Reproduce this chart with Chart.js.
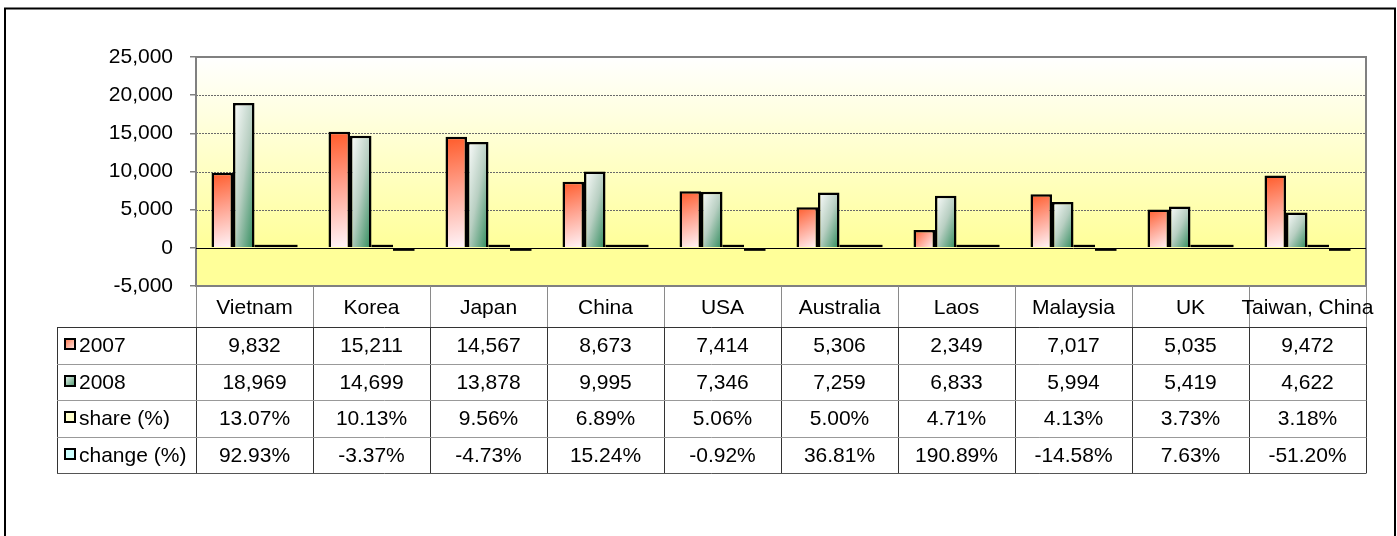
<!DOCTYPE html>
<html><head><meta charset="utf-8">
<script src="https://cdn.jsdelivr.net/npm/chart.js@4/dist/chart.umd.min.js"></script>
<style>html,body{margin:0;padding:0;background:#fff;}#wrap{width:1397px;height:536px;position:relative;overflow:hidden;}</style>
</head><body><div id="wrap"><canvas id="c" width="1397" height="536"></canvas></div>
<script>
const categories = ['Vietnam','Korea','Japan','China','USA','Australia','Laos','Malaysia','UK','Taiwan, China'];
const values2007 = [9832,15211,14567,8673,7414,5306,2349,7017,5035,9472];
const values2008 = [18969,14699,13878,9995,7346,7259,6833,5994,5419,4622];
const sharePct = [13.07,10.13,9.56,6.89,5.06,5.00,4.71,4.13,3.73,3.18];
const changePct = [92.93,-3.37,-4.73,15.24,-0.92,36.81,190.89,-14.58,7.63,-51.20];
const seriesNames = ['2007','2008','share (%)','change (%)'];
const yMin = -5000, yMax = 25000, yStep = 5000;

const FONT = "'Liberation Sans', Arial, sans-serif";
const FONT_SIZE = 21;
const CAT_PCT = 0.735;

function fmtInt(v){ return v.toLocaleString('en-US'); }
function fmtPct(v){ return v.toFixed(2) + '%'; }

function barGrad(ctx, stops, dsIndex, mode){
  const chart = ctx.chart; const xs = chart.scales.x, ys = chart.scales.y;
  if (!xs || !ys || ctx.type !== 'data') return stops[0][1];
  const xc = xs.getPixelForValue(ctx.dataIndex);
  const colW = xs.getPixelForValue(1) - xs.getPixelForValue(0);
  const v = ctx.raw;
  const top = ys.getPixelForValue(Math.max(v,0)), bot = ys.getPixelForValue(Math.min(v,0));
  if (!isFinite(xc) || !isFinite(colW) || !isFinite(top) || !isFinite(bot)) return stops[0][1];
  const bw = colW*CAT_PCT/4;
  const left = xc - 2*bw + dsIndex*bw;
  const w = Math.max(bw,1), h = Math.max(bot-top,1);
  let g;
  if (mode === 'diag') {
    const k = 2/(1/(w*w)+1/(h*h));
    g = chart.ctx.createLinearGradient(left, top, left + k/w, top + k/h);
  } else {
    g = chart.ctx.createLinearGradient(left, top, left + w, bot);
  }
  stops.forEach(s => g.addColorStop(s[0], s[1]));
  return g;
}

const stops2007 = [[0,'#FF5A28'],[0.45,'#FFA08C'],[1,'#FFF6FB']];
const stops2008 = [[0,'#FFFFFF'],[0.5,'#B8CFC2'],[1,'#2C8A5A']];

const tablePlugin = {
  id: 'tablePlugin',
  beforeDatasetsDraw(chart){
    const {ctx, chartArea:a, scales:{y}} = chart;
    ctx.save();
    const y0 = y.getPixelForValue(0);
    const g = ctx.createLinearGradient(0, a.top, 0, y0);
    g.addColorStop(0,'#FFFFFF'); g.addColorStop(1,'#FFFF99');
    ctx.fillStyle = g; ctx.fillRect(a.left, a.top, a.width, y0 - a.top);
    ctx.fillStyle = '#FFFF99'; ctx.fillRect(a.left, y0, a.width, a.bottom - y0);
    ctx.strokeStyle = '#6a6a6a'; ctx.lineWidth = 1; ctx.setLineDash([2,1]);
    y.ticks.forEach(t => {
      if (t.value === 0 || t.value === yMin || t.value === yMax) return;
      const py = Math.round(y.getPixelForValue(t.value)) + 0.5;
      ctx.beginPath(); ctx.moveTo(a.left, py); ctx.lineTo(a.right, py); ctx.stroke();
    });
    ctx.setLineDash([]);
    ctx.strokeStyle = '#808080'; ctx.lineWidth = 2;
    ctx.strokeRect(a.left, a.top, a.width, a.height);
    ctx.strokeStyle = '#000'; ctx.lineWidth = 1;
    const pz = Math.round(y0) + 0.5;
    ctx.beginPath(); ctx.moveTo(a.left, pz); ctx.lineTo(a.right, pz); ctx.stroke();
    ctx.restore();
  },
  afterDraw(chart){
    const {ctx, chartArea:a, scales:{x}} = chart;
    ctx.save();
    const colW = x.getPixelForValue(1) - x.getPixelForValue(0);
    const tableLeft = 57, rowTop = 327, rowH = 36.5, nRows = 4;
    const tableBottom = rowTop + rowH*nRows;
    ctx.lineWidth = 1;
    ctx.strokeStyle = '#8a8a8a';
    for (let i = 0; i <= categories.length; i++) {
      const px = Math.round(a.left + i*colW) + 0.5;
      ctx.beginPath(); ctx.moveTo(px, a.bottom); ctx.lineTo(px, rowTop); ctx.stroke();
    }
    ctx.strokeStyle = '#333';
    const vx = [tableLeft];
    for (let i = 0; i <= categories.length; i++) vx.push(a.left + i*colW);
    vx.forEach(v => { const px = Math.round(v) + 0.5; ctx.beginPath(); ctx.moveTo(px, rowTop); ctx.lineTo(px, tableBottom); ctx.stroke(); });
    for (let r = 0; r <= nRows; r++) {
      const py = Math.round(rowTop + r*rowH) + 0.5;
      ctx.strokeStyle = (r === 0) ? '#333' : (r === nRows ? '#555' : '#999');
      ctx.beginPath(); ctx.moveTo(tableLeft, py); ctx.lineTo(Math.round(a.right)+0.5, py); ctx.stroke();
    }
    ctx.fillStyle = '#000'; ctx.font = FONT_SIZE + 'px ' + FONT;
    ctx.textAlign = 'center'; ctx.textBaseline = 'middle';
    categories.forEach((c,i) => ctx.fillText(c, x.getPixelForValue(i), (a.bottom + rowTop)/2 + 2));
    const rows = [values2007.map(fmtInt), values2008.map(fmtInt), sharePct.map(fmtPct), changePct.map(fmtPct)];
    rows.forEach((row, r) => {
      const cy = rowTop + r*rowH + rowH/2 + 1;
      row.forEach((t,i) => ctx.fillText(t, x.getPixelForValue(i), cy));
    });
    const keyFills = [
      (() => { const g = ctx.createLinearGradient(64,337,76,349); g.addColorStop(0,'#FF6A3A'); g.addColorStop(1,'#FFF4F8'); return g; })(),
      (() => { const g = ctx.createLinearGradient(64,337,76,349); g.addColorStop(0,'#FFFFFF'); g.addColorStop(1,'#3C8E62'); return g; })(),
      '#FFFFCC', '#CCFFFF'
    ];
    ctx.textAlign = 'left';
    seriesNames.forEach((n, r) => {
      const cy = rowTop + r*rowH + rowH/2;
      const ky = Math.round(cy - 7);
      ctx.fillStyle = '#000'; ctx.fillRect(64, ky, 12, 12);
      ctx.fillStyle = keyFills[r];
      ctx.save(); ctx.translate(0, ky - 337);
      ctx.fillRect(66, 339, 8, 8);
      ctx.restore();
      ctx.fillStyle = '#000';
      ctx.fillText(n, 79, cy + 1);
    });
    ctx.strokeStyle = '#000'; ctx.lineWidth = 2;
    ctx.strokeRect(5, 8.5, 1390, 600);
    ctx.restore();
  }
};

Chart.defaults.font.family = FONT;
Chart.defaults.color = '#000';

new Chart(document.getElementById('c'), {
  type: 'bar',
  data: {
    labels: categories,
    datasets: [
      { label: seriesNames[0], data: values2007,
        backgroundColor: c => barGrad(c, stops2007, 0, 'lin'),
        borderColor: '#000', borderWidth: 2.5 },
      { label: seriesNames[1], data: values2008,
        backgroundColor: c => barGrad(c, stops2008, 1, 'diag'),
        borderColor: '#000', borderWidth: 2.5 },
      { label: seriesNames[2], data: sharePct.map(v => v/100),
        backgroundColor: '#000', borderWidth: 0, minBarLength: 3 },
      { label: seriesNames[3], data: changePct.map(v => v/100),
        backgroundColor: '#000', borderWidth: 0, minBarLength: 3 }
    ]
  },
  options: {
    responsive: false,
    devicePixelRatio: 1,
    animation: false,
    datasets: { bar: { categoryPercentage: CAT_PCT, barPercentage: 1 } },
    layout: { padding: { left: 0, top: 57, right: 31, bottom: 250 } },
    plugins: { legend: { display: false }, tooltip: { enabled: false } },
    scales: {
      x: { display: false },
      y: {
        min: yMin, max: yMax,
        ticks: { stepSize: yStep, font: { size: FONT_SIZE }, color: '#000', padding: 17 },
        grid: { drawOnChartArea: false, drawTicks: true, tickLength: 6, color: '#808080', lineWidth: 1.5 },
        border: { display: true, color: '#808080', width: 2 },
        afterFit: s => { s.width = 196; }
      }
    }
  },
  plugins: [tablePlugin]
});
</script>
</body></html>
